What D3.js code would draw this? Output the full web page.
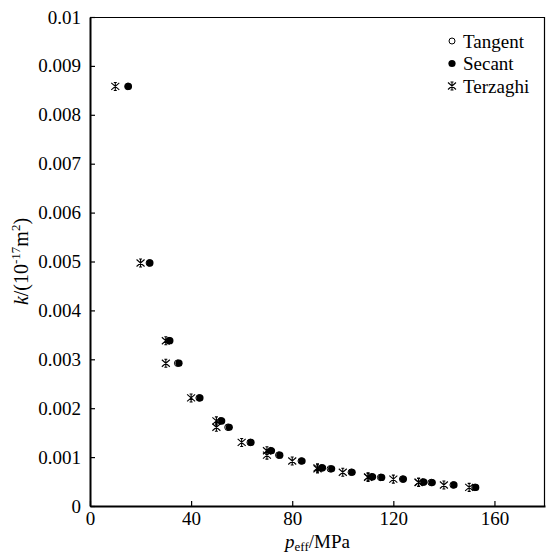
<!DOCTYPE html>
<html>
<head>
<meta charset="utf-8">
<script src="https://cdn.jsdelivr.net/npm/d3@7"></script>
<style>
  body { margin: 0; background: #fff; }
  text { font-family: "Liberation Serif", "DejaVu Serif", serif; fill: #000; }
</style>
</head>
<body>
<div id="chart"></div>
<script>
// k vs effective pressure, three methods
var w = 546, h = 555;
var margin = {top: 17, right: 1, bottom: 49, left: 90};

var kValues   = [0.00858, 0.00497, 0.00338, 0.00292, 0.00221, 0.00174, 0.00161, 0.0013, 0.00113, 0.00104,
                 0.00092, 0.00078, 0.00076, 0.00069, 0.000597, 0.000585, 0.00055, 0.00049, 0.00048, 0.00043, 0.00038];
var pTerzaghi = [10, 20, 30, 30, 40, 50, 50, 60, 70, 70, 80, 90, 90, 100, 110, 110, 120, 130, 130, 140, 150];
var pSecant   = [15.2, 23.7, 31.6, 35.2, 43.5, 52.1, 55.1, 63.7, 71.8, 75.1, 83.9, 92, 95.6, 103.7, 111.8, 115.4, 124, 132.1, 135.4, 144, 152.6];
var pTangent  = [15.0, 23.5, 31.2, 34.7, 43.2, 51.8, 54.6, 63.4, 71.5, 74.7, 83.6, 91.7, 95.1, 103.4, 111.5, 115.0, 123.7, 131.8, 135.0, 143.7, 152.3];
var xTicks = [0, 40, 80, 120, 160];
var yTicks = [0, 0.001, 0.002, 0.003, 0.004, 0.005, 0.006, 0.007, 0.008, 0.009, 0.01];
var legendNames = ["Tangent", "Secant", "Terzaghi"];

var iw = w - margin.left - margin.right, ih = h - margin.top - margin.bottom;

var svg = d3.select("#chart").append("svg")
    .attr("width", w)
    .attr("height", h);

var g = svg.append("g")
    .attr("transform", "translate(" + margin.left + "," + margin.top + ")");

var x = d3.scaleLinear().domain([0, 180]).range([0, iw]);
var y = d3.scaleLinear().domain([0, 0.01]).range([ih, 0]);

// frame: thin top/right
g.append("line").attr("x1", 0).attr("x2", iw).attr("y1", 0.5).attr("y2", 0.5)
    .attr("stroke", "#000").attr("stroke-width", 1.2);
g.append("line").attr("x1", iw - 0.5).attr("x2", iw - 0.5).attr("y1", 0).attr("y2", ih)
    .attr("stroke", "#000").attr("stroke-width", 1.2);

var xAxis = g.append("g")
    .attr("transform", "translate(0," + ih + ")")
    .call(d3.axisBottom(x).tickValues(xTicks).tickFormat(d3.format("d")).tickSizeInner(-5).tickSizeOuter(0).tickPadding(6));
var yAxis = g.append("g")
    .call(d3.axisLeft(y).tickValues(yTicks).tickFormat(function(d) { return d === 0 ? "0" : d3.format("")(+d.toFixed(3)); })
        .tickSizeInner(-5).tickSizeOuter(0).tickPadding(9));

[xAxis, yAxis].forEach(function(a) {
    a.select(".domain").attr("stroke", "#000").attr("stroke-width", 2);
    a.selectAll(".tick line").attr("stroke", "#000").attr("stroke-width", 1.2);
    a.selectAll(".tick text").style("font-size", "19px").style("font-family", "Liberation Serif");
});

// markers
var star = "M-4,-3.5L4,3.5M-4,3.5L4,-3.5M0,-4L0,4M-1.5,-4L1.5,-4M-1.5,4L1.5,4";

g.selectAll(".terz")
    .data(pTerzaghi)
    .enter()
    .append("path")
    .attr("class", "terz")
    .attr("d", star)
    .attr("transform", function(d, i) { return "translate(" + x(d) + "," + y(kValues[i]) + ")"; })
    .attr("stroke", "#000")
    .attr("stroke-width", 1.1)
    .attr("fill", "none");

g.selectAll(".sec")
    .data(pSecant)
    .enter()
    .append("circle")
    .attr("class", "sec")
    .attr("cx", function(d) { return x(d); })
    .attr("cy", function(d, i) { return y(kValues[i]); })
    .attr("r", 3.6)
    .attr("fill", "#000");

g.selectAll(".tan")
    .data(pTangent)
    .enter()
    .append("circle")
    .attr("class", "tan")
    .attr("cx", function(d) { return x(d); })
    .attr("cy", function(d, i) { return y(kValues[i]); })
    .attr("r", 3.3)
    .attr("fill", "none")
    .attr("stroke", "#000")
    .attr("stroke-width", 1);

// legend
var leg = svg.append("g").attr("transform", "translate(452,41)");
var items = leg.selectAll(".item")
    .data(legendNames)
    .enter()
    .append("g")
    .attr("class", "item")
    .attr("transform", function(d, i) { return "translate(0," + i * 22.5 + ")"; });

items.append("text")
    .attr("x", 11)
    .attr("dy", "0.35em")
    .style("font-size", "19px")
    .text(function(d) { return d; });

items.filter(function(d, i) { return i === 0; }).append("circle")
    .attr("r", 3).attr("fill", "none").attr("stroke", "#000").attr("stroke-width", 1);
items.filter(function(d, i) { return i === 1; }).append("circle")
    .attr("r", 3.6).attr("fill", "#000");
items.filter(function(d, i) { return i === 2; }).append("path")
    .attr("d", star).attr("stroke", "#000").attr("stroke-width", 1.1).attr("fill", "none");

// axis titles
var xt = svg.append("text")
    .attr("x", margin.left + iw / 2)
    .attr("y", 548)
    .attr("text-anchor", "middle")
    .style("font-size", "19px");
xt.append("tspan").style("font-style", "italic").text("p");
xt.append("tspan").attr("dy", 3).style("font-size", "13px").text("eff");
xt.append("tspan").attr("dy", -3).text("/MPa");

var yt = svg.append("text")
    .attr("transform", "translate(28," + (margin.top + ih / 2) + ") rotate(-90)")
    .attr("text-anchor", "middle")
    .style("font-size", "20px");
yt.append("tspan").style("font-style", "italic").text("k");
yt.append("tspan").text("/(10");
yt.append("tspan").attr("dy", -8).style("font-size", "13px").text("-17");
yt.append("tspan").attr("dy", 8).text("m");
yt.append("tspan").attr("dy", -8).style("font-size", "13px").text("2");
yt.append("tspan").attr("dy", 8).text(")");
</script>
</body>
</html>
